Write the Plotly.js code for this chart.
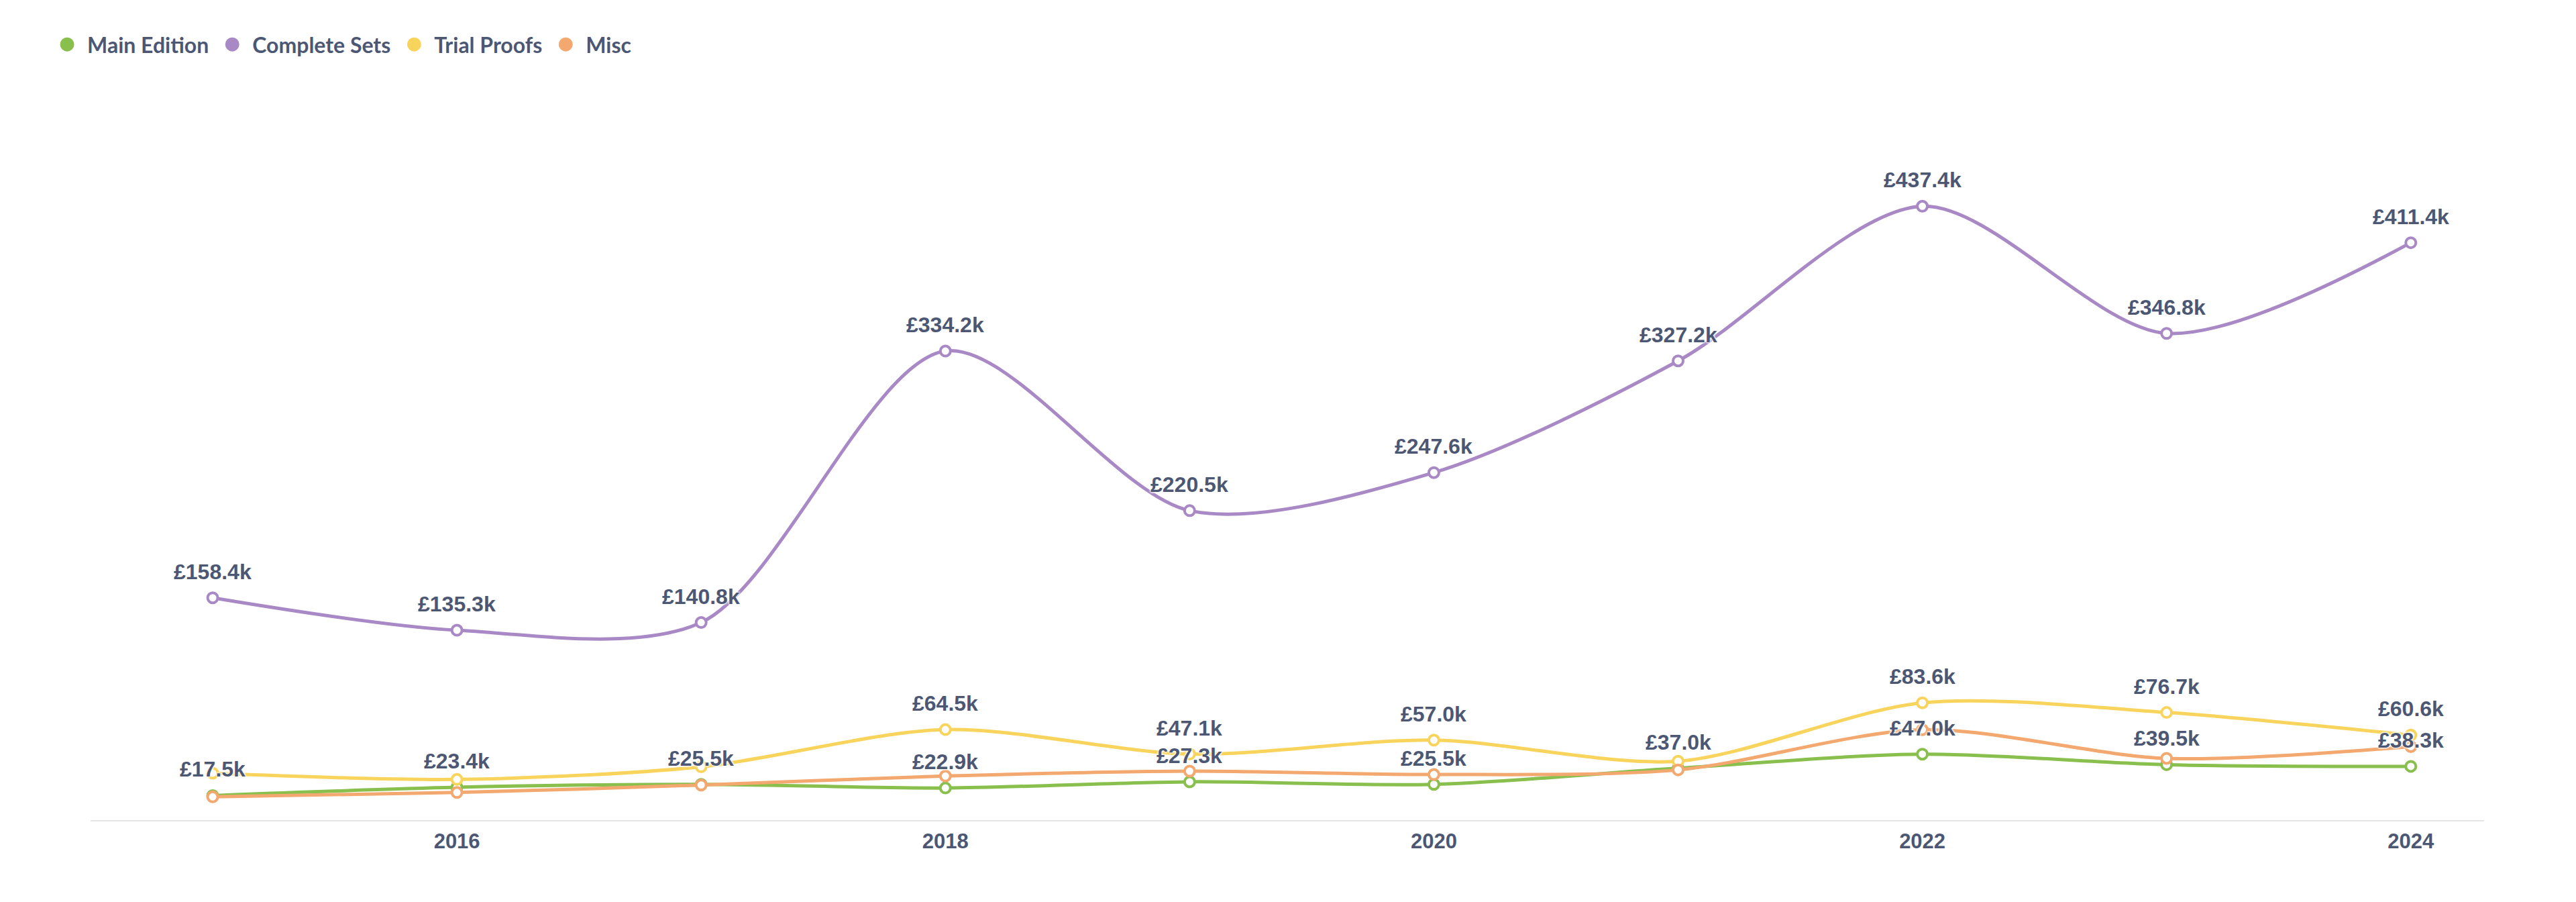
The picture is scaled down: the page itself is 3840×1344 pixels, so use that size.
<!DOCTYPE html>
<html>
<head>
<meta charset="utf-8">
<script src="https://cdn.plot.ly/plotly-3.0.1.min.js"></script>
<style>
  html, body { margin: 0; padding: 0; background: #ffffff; }
  #chart { width: 3840px; height: 1344px; }
</style>
</head>
<body>
<div id="chart"></div>
<script>
// ---- data (values in £) ----
const years = [2015, 2016, 2017, 2018, 2019, 2020, 2021, 2022, 2023, 2024];
const mainEdition  = [17500, 23400, 25500, 22900, 27300, 25500, 37000, 47000, 39500, 38300];
const completeSets = [158400, 135300, 140800, 334200, 220500, 247600, 327200, 437400, 346800, 411400];
const trialProofs  = [33500, 29000, 38000, 64500, 47100, 57000, 42000, 83600, 76700, 60600];
const misc         = [16600, 19700, 25000, 31400, 34900, 32500, 35800, 64400, 44000, 52400];
// which data labels are visible in the reference (others hidden by overlap)
const mainEditionLabels  = [1, 1, 1, 1, 1, 1, 1, 1, 1, 1];
const completeSetsLabels = [1, 1, 1, 1, 1, 1, 1, 1, 1, 1];
const trialProofsLabels  = [0, 0, 0, 1, 1, 1, 0, 1, 1, 1];
const miscLabels         = [0, 0, 0, 0, 0, 0, 0, 0, 0, 0];
const seriesNames = ["Main Edition", "Complete Sets", "Trial Proofs", "Misc"];
const xTickStart = 2016, xTickStep = 2;

// ---- styling ----
const colors = ["#88BF4D", "#A989C5", "#F9D45C", "#F2A86F"];
const textColor = "#4C5773";
const series = [
  { name: seriesNames[0], values: mainEdition,  labels: mainEditionLabels,  color: colors[0] },
  { name: seriesNames[1], values: completeSets, labels: completeSetsLabels, color: colors[1] },
  { name: seriesNames[2], values: trialProofs,  labels: trialProofsLabels,  color: colors[2] },
  { name: seriesNames[3], values: misc,         labels: miscLabels,         color: colors[3] }
];

function fmt(v) { return "£" + (v / 1000).toFixed(1) + "k"; }

const traces = [];
const annotations = [];
series.forEach(s => {
  traces.push({
    type: "scatter",
    mode: "lines+markers",
    x: years,
    y: s.values,
    name: s.name,
    showlegend: false,
    hoverinfo: "skip",
    line: { color: s.color, width: 5, shape: "spline", smoothing: 0.85 },
    marker: { symbol: "circle", size: 15, color: "#ffffff", line: { color: s.color, width: 4 } }
  });
  years.forEach((yr, i) => {
    if (s.labels[i]) {
      annotations.push({
        x: yr, y: s.values[i], xref: "x", yref: "y",
        text: fmt(s.values[i]),
        showarrow: false,
        yshift: 39,
        yanchor: "middle",
        font: {
          family: "Liberation Sans, Arial, sans-serif",
          size: 32, weight: 700, color: textColor,
          shadow: "0 0 3px #fff, 0 0 3px #fff, 0 0 3px #fff, 0 0 3px #fff"
        }
      });
    }
  });
});
// legend entries (filled circles)
series.forEach(s => {
  traces.push({
    type: "scatter", mode: "markers",
    x: [null], y: [null],
    name: s.name,
    showlegend: true,
    hoverinfo: "skip",
    marker: { symbol: "circle", size: 16, color: s.color, line: { color: s.color, width: 12 } }
  });
});

const layout = {
  width: 3840, height: 1344,
  paper_bgcolor: "#ffffff", plot_bgcolor: "#ffffff",
  margin: { l: 135, r: 137, t: 150, b: 122 },
  showlegend: true,
  legend: {
    orientation: "h",
    x: -0.0182, xanchor: "left",
    y: 1.078, yanchor: "middle",
    itemwidth: 50,
    font: { family: "Lato, sans-serif", size: 32, weight: 700, color: textColor },
    itemclick: false, itemdoubleclick: false,
    traceorder: "normal"
  },
  xaxis: {
    range: [2014.5, 2024.3],
    tickmode: "linear", tick0: xTickStart, dtick: xTickStep,
    showgrid: false, zeroline: false,
    showline: true, linecolor: "#e6e6e6", linewidth: 2,
    ticks: "",
    ticklabelstandoff: 3,
    tickfont: { family: "Liberation Sans, Arial, sans-serif", size: 31, weight: 700, color: textColor }
  },
  yaxis: {
    range: [0, 512600],
    visible: false, showgrid: false, zeroline: false
  },
  annotations: annotations
};

Plotly.newPlot("chart", traces, layout, { displayModeBar: false, staticPlot: true });
</script>
</body>
</html>
